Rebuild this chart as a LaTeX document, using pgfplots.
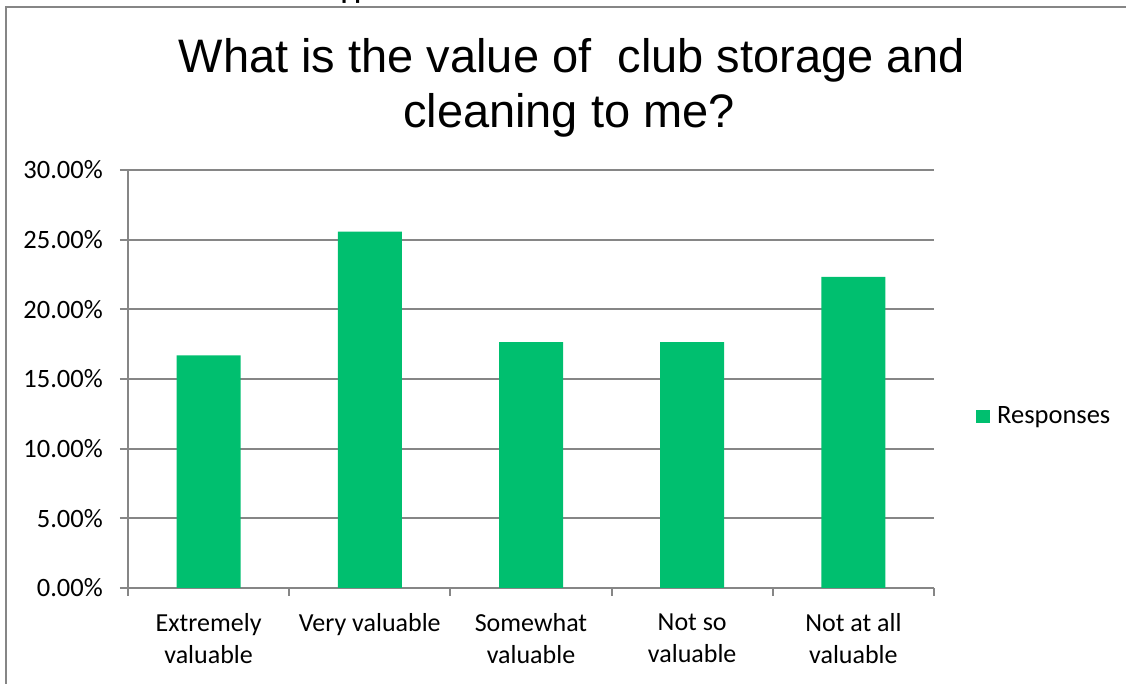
\documentclass[border=0pt]{standalone}
\usepackage{fontspec}
\setmainfont{Carlito}
\newfontfamily\titlefont{Liberation Sans}
\usepackage{pgfplots}
\pgfplotsset{compat=1.18}
\definecolor{bargreen}{HTML}{00BF6F}
\definecolor{axisgray}{HTML}{868686}

\begin{document}
\begin{tikzpicture}[x=1pt,y=1pt]
\useasboundingbox (0,0) rectangle (1126,684);
% chart frame (left and top edges only visible)
\draw[axisgray, line width=2pt] (6,0) -- (6,677) -- (1127,677);
% cut-off text above the frame
\begin{scope}
  \clip (0,678) rectangle (1126,684);
  \node[anchor=base west, inner sep=0] at (341,684) {\fontsize{25}{30}\selectfont\bfseries pp};
\end{scope}
% title
\node[anchor=base, inner sep=0] at (572,611) {\titlefont\fontsize{47}{57}\selectfont What is the value of\ \ club storage and};
\node[anchor=base, inner sep=0] at (569,556) {\titlefont\fontsize{47}{57}\selectfont cleaning to me?};

\begin{axis}[
  at={(128pt,96pt)}, anchor=south west,
  scale only axis, width=806pt, height=418pt,
  xmin=-0.5, xmax=4.5, ymin=0, ymax=30,
  axis x line=bottom, axis y line=left,
  axis line style={axisgray, line width=2pt, -},
  ybar, bar width=64pt,
  ytick={0,5,10,15,20,25,30},
  yticklabels={0.00\%,5.00\%,10.00\%,15.00\%,20.00\%,25.00\%,30.00\%},
  yticklabel style={font=\fontsize{26.5}{30}\selectfont, anchor=east, inner sep=0pt, xshift=-17pt},
  ymajorgrids, major grid style={axisgray, line width=2pt},
  xtick={0,1,2,3,4},
  xticklabels={{Extremely\\valuable},{Very valuable},{Somewhat\\valuable},{Not so\\valuable},{Not at all\\valuable}},
  xticklabel style={align=center, anchor=north, yshift=-14pt, font=\fontsize{26}{32}\selectfont},
  major x tick style={draw=none},
  minor xtick={-0.5,0.5,1.5,2.5,3.5,4.5},
  tick align=outside, major tick length=8pt, minor tick length=8pt,
  tick style={axisgray, line width=2pt},
  legend style={draw=none, at={(1.052,0.411)}, anchor=west, inner sep=0pt,
    font=\fontsize{26.5}{30}\selectfont},
  legend image code/.code={\fill[bargreen] (0pt,-6.5pt) rectangle (14pt,6.5pt);},
  legend cell align=left,
  legend style={/tikz/every even column/.append style={column sep=0pt}},
  legend style={nodes={inner xsep=7pt}},
  clip=false,
]
\addplot[fill=bargreen, draw=none] coordinates {
  (0,16.70) (1,25.58) (2,17.65) (3,17.65) (4,22.33)
};
\legend{Responses}
\end{axis}
\end{tikzpicture}
\end{document}
